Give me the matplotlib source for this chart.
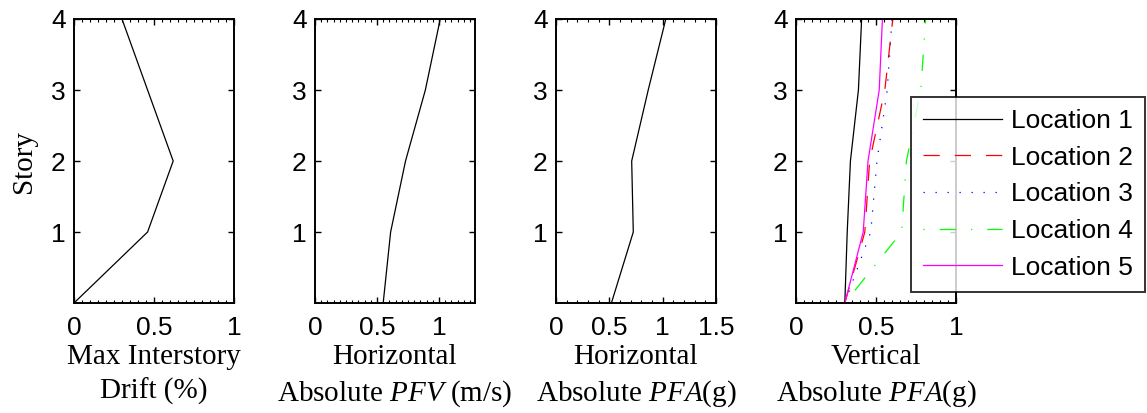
import numpy as np
from matplotlib import pyplot as plt
from matplotlib.ticker import AutoMinorLocator

plt.rcParams['font.family'] = 'Liberation Sans'
plt.rcParams['mathtext.fontset'] = 'custom'
plt.rcParams['mathtext.rm'] = 'Liberation Serif'
plt.rcParams['mathtext.it'] = 'Liberation Serif:italic'
plt.rcParams['xtick.labelsize'] = 19
plt.rcParams['ytick.labelsize'] = 19
plt.rcParams['axes.linewidth'] = 1.4

stories = [0, 1, 2, 3, 4]

# Response profiles along the height
drift = [0.0, 0.46, 0.62, 0.46, 0.30]
pfv_h = [0.55, 0.61, 0.73, 0.89, 1.01]
pfa_h = [0.52, 0.725, 0.71, 0.865, 1.03]

# Vertical PFA at each measurement location
pfa_v = {
    'Location 1': [0.305, 0.32, 0.34, 0.39, 0.41],
    'Location 2': [0.305, 0.43, 0.46, 0.555, 0.605],
    'Location 3': [0.305, 0.467, 0.506, 0.57, 0.60],
    'Location 4': [0.305, 0.66, 0.69, 0.78, 0.81],
    'Location 5': [0.305, 0.42, 0.45, 0.52, 0.54],
}
loc_styles = {
    'Location 1': dict(color='black', linestyle='-'),
    'Location 2': dict(color='red', linestyle=(0, (13, 12))),
    'Location 3': dict(color='blue', linestyle=(0, (1, 8.6))),
    'Location 4': dict(color='#00ff00', linestyle=(0, (1, 12, 13, 12))),
    'Location 5': dict(color='magenta', linestyle='-'),
}

serif = dict(family='Liberation Serif', fontsize=21)

fig = plt.figure(figsize=(11.47, 4.13), dpi=100)
lefts = [0.0645, 0.2746, 0.4847, 0.694]
axes = [fig.add_axes([l, 0.2663, 0.1395, 0.6877]) for l in lefts]

ax1, ax2, ax3, ax4 = axes

ax1.plot(drift, stories, color='black', lw=0.9)
ax1.set_xlim(0, 1)
ax1.set_xticks([0, 0.5, 1])
ax1.set_xticklabels(['0', '0.5', '1'])
ax1.set_xlabel('Max Interstory\nDrift (%)', linespacing=1.35, **serif)
ax1.set_ylabel('Story', **serif)

ax2.plot(pfv_h, stories, color='black', lw=0.9)
ax2.set_xlim(0, 1.29)
ax2.set_xticks([0, 0.5, 1])
ax2.set_xticklabels(['0', '0.5', '1'])
ax2.set_xlabel('Horizontal\nAbsolute $PFV$ (m/s)', linespacing=1.35, **serif)

ax3.plot(pfa_h, stories, color='black', lw=0.9)
ax3.set_xlim(0, 1.5)
ax3.set_xticks([0, 0.5, 1, 1.5])
ax3.set_xticklabels(['0', '0.5', '1', '1.5'])
ax3.set_xlabel('Horizontal\nAbsolute $PFA$(g)', linespacing=1.35, **serif)

for name, vals in pfa_v.items():
    ax4.plot(vals, stories, lw=0.9, label=name, **loc_styles[name])
ax4.set_xlim(0, 1)
ax4.set_xticks([0, 0.5, 1])
ax4.set_xticklabels(['0', '0.5', '1'])
ax4.set_xlabel('Vertical\nAbsolute $PFA$(g)', linespacing=1.35, **serif)

leg = ax4.legend(loc='upper left', bbox_to_anchor=(0.72, 0.725), fontsize=19,
                 frameon=True, fancybox=False, edgecolor='black',
                 handlelength=3.0, handletextpad=0.34, borderpad=0.45,
                 labelspacing=0.48, borderaxespad=0)
leg.get_frame().set_linewidth(1.4)
leg.set_zorder(5)

for ax in axes:
    ax.set_ylim(0, 4)
    ax.set_yticks([1, 2, 3, 4])
    ax.set_yticklabels(['1', '2', '3', '4'])
    ax.tick_params(direction='in', top=True, right=True, length=4, width=1,
                   pad=6)
    ax.tick_params(axis='x', pad=9)
    ax.tick_params(which='minor', direction='in', top=True, length=2, width=0.8)
    ax.tick_params(axis='y', which='minor', left=False, right=False)
    ax.xaxis.set_label_coords(0.5, -0.145)

ax3.xaxis.set_minor_locator(AutoMinorLocator(5))
for ax in (ax1, ax2, ax4):
    ax.xaxis.set_minor_locator(AutoMinorLocator(10))

ax1.yaxis.set_label_coords(-0.23, 0.5)

fig.savefig('out.png', dpi=100)
